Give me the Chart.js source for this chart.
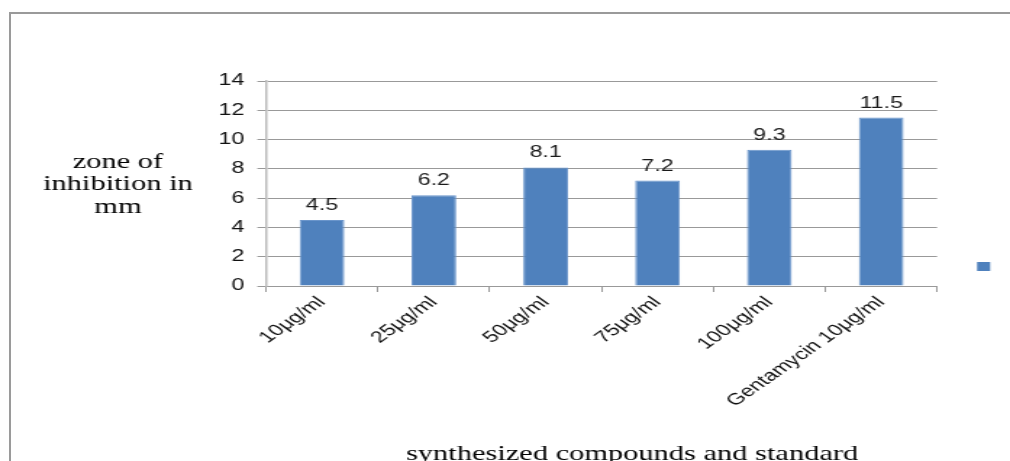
<!DOCTYPE html>
<html>
<head>
<meta charset="utf-8">
<script src="https://cdn.jsdelivr.net/npm/chart.js@4.4.0/dist/chart.umd.min.js"></script>
<style>
html, body { margin: 0; padding: 0; background: #fff; overflow: hidden; }
#frame {
    position: absolute; left: 9px; top: 12px; width: 1010px; height: 460px;
    border-left: 2px solid #9a9a9a; border-top: 2px solid #9a9a9a;
}
/* chart drawn at narrow width and widened to fill the page */
#wrap {
    position: absolute; left: 0; top: 0; width: 697px; height: 461px;
    transform: scaleX(1.44907); transform-origin: 0 0;
}
</style>
</head>
<body>
<div id="frame"></div>
<div id="wrap"><canvas id="zoneChart"></canvas></div>
<script>
var categories = ['10μg/ml', '25μg/ml', '50μg/ml', '75μg/ml', '100μg/ml', 'Gentamycin 10μg/ml'];
var zoneValues = [4.5, 6.2, 8.1, 7.2, 9.3, 11.5];
var yTitleLines = ['zone of', 'inhibition in', 'mm'];
var xTitle = 'synthesized compounds and standard';

var barColor = '#4f81bd';
var sansFont = '"Liberation Sans", Arial, sans-serif';
var serifFont = '"Liberation Serif", "Times New Roman", serif';

// value labels above bars, free-standing axis titles and the bare legend key
var extrasPlugin = {
    id: 'extras',
    afterDatasetsDraw: function(chart) {
        var ctx = chart.ctx;
        var meta = chart.getDatasetMeta(0);
        ctx.save();
        ctx.fillStyle = '#1a1a1a';
        ctx.font = '16px ' + sansFont;
        ctx.textAlign = 'center';
        ctx.textBaseline = 'alphabetic';
        meta.data.forEach(function(bar, i) {
            ctx.fillText(String(zoneValues[i]), bar.x, bar.y - 10);
        });

        ctx.fillStyle = '#000';
        ctx.font = '21px ' + serifFont;
        var baselines = [168, 190, 213];
        yTitleLines.forEach(function(line, i) {
            ctx.fillText(line, 81.4, baselines[i]);
        });
        ctx.fillText(xTitle, 436.2, 460);

        ctx.fillStyle = chart.data.datasets[0].backgroundColor;
        ctx.fillRect(674.3, 262, 9, 9);
        ctx.restore();
    }
};

new Chart(document.getElementById('zoneChart'), {
    type: 'bar',
    data: {
        labels: categories,
        datasets: [{
            label: '',
            data: zoneValues,
            backgroundColor: barColor,
            borderColor: '#6a95cb',
            borderWidth: 1,
            barPercentage: 0.4,
            categoryPercentage: 1.0,
        }],
    },
    options: {
        responsive: true,
        maintainAspectRatio: false,
        animation: false,
        layout: { padding: { top: 81, right: 50.3, left: 0, bottom: 0 } },
        plugins: {
            legend: { display: false },
            tooltip: { enabled: false },
        },
        scales: {
            x: {
                afterFit: function(scale) { scale.height = 175; },
                grid: {
                    drawOnChartArea: false,
                    drawTicks: true,
                    tickLength: 6,
                    color: '#999',
                },
                border: { color: '#999', width: 1 },
                ticks: {
                    color: '#111',
                    font: { family: sansFont, size: 16 },
                    minRotation: 45,
                    maxRotation: 45,
                    autoSkip: false,
                    padding: 1,
                },
            },
            y: {
                min: 0,
                max: 14,
                afterFit: function(scale) { scale.width = 183.6; },
                grid: {
                    color: '#999',
                    tickLength: 6,
                },
                border: { color: '#bbb', width: 1.5 },
                ticks: {
                    stepSize: 2,
                    color: '#111',
                    font: { family: sansFont, size: 16 },
                    padding: 9,
                },
            },
        },
    },
    plugins: [extrasPlugin],
});
</script>
</body>
</html>
